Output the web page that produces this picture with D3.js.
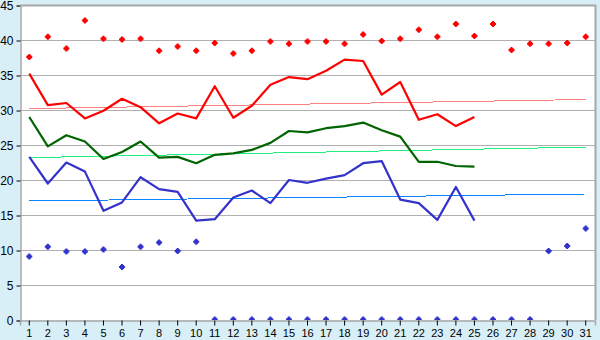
<!DOCTYPE html>
<html>
<head>
<meta charset="utf-8">
<script src="https://cdn.jsdelivr.net/npm/d3@7"></script>
<style>
  html, body { margin: 0; padding: 0; background: #d9eff7; }
  svg { display: block; font-family: "Liberation Sans", Arial, sans-serif; }
</style>
</head>
<body>
<svg id="chart" width="600" height="340"></svg>
<script>
// day numbers along the bottom
var days = d3.range(1, 32);
var yTicks = [0, 5, 10, 15, 20, 25, 30, 35, 40, 45];

// daily maximum, mean and minimum (days 1..25)
var maxTemp = [35.2, 30.7, 31.0, 28.8, 29.9, 31.6, 30.4, 28.1, 29.5, 28.8,
  33.4, 28.9, 30.6, 33.6, 34.7, 34.4, 35.6, 37.2, 37.0, 32.2,
  34.0, 28.6, 29.4, 27.7, 29.0];
var meanTemp = [29.0, 24.8, 26.4, 25.5, 23.0, 24.0, 25.5, 23.2, 23.3, 22.4,
  23.6, 23.8, 24.3, 25.3, 27.0, 26.8, 27.4, 27.7, 28.2, 27.1,
  26.2, 22.6, 22.6, 22.0, 21.9];
var minTemp = [23.3, 19.5, 22.5, 21.2, 15.6, 16.8, 20.4, 18.7, 18.3, 14.2,
  14.4, 17.5, 18.5, 16.7, 20.0, 19.6, 20.2, 20.7, 22.4, 22.7,
  17.2, 16.7, 14.3, 19.0, 14.2];

// record highs and lows (days 1..31)
var recordHigh = [37.5, 40.4, 38.7, 42.7, 40.1, 40.0, 40.1, 38.4, 39.0, 38.4,
  39.5, 38.0, 38.4, 39.7, 39.4, 39.7, 39.7, 39.4, 40.7, 39.8,
  40.1, 41.4, 40.4, 42.2, 40.5, 42.2, 38.5, 39.4, 39.4, 39.5, 40.4];
var recordLow = [9.0, 10.4, 9.7, 9.7, 10.0, 7.5, 10.4, 11.0, 9.8, 11.1,
  0, 0, 0, 0, 0, 0, 0, 0, 0, 0,
  0, 0, 0, 0, 0, 0, 0, 0, 9.8, 10.5, 13.0];

// long-term normals, value at day 1 and day 31
var normalMax = [30.2, 31.5];
var normalMean = [23.2, 24.7];
var normalMin = [17.0, 18.0];

var svg = d3.select('#chart');
var plotLeft = 20, plotRight = 595, plotTop = 5, plotBottom = 320;

var x = d3.scaleBand().domain(days).range([plotLeft, plotRight]).padding(0);
var y = d3.scaleLinear().domain([0, 45]).range([plotBottom, plotTop]);
var cx = function (d) { return x(d) + x.bandwidth() / 2; };

// plot background
svg.append('rect')
  .attr('x', plotLeft).attr('y', plotTop)
  .attr('width', plotRight - plotLeft).attr('height', plotBottom - plotTop)
  .attr('fill', '#fff');

svg.append('clipPath').attr('id', 'plot')
  .append('rect')
  .attr('x', plotLeft).attr('y', plotTop)
  .attr('width', plotRight - plotLeft).attr('height', plotBottom - plotTop);

// horizontal grid
svg.append('g').selectAll('line')
  .data(yTicks.slice(1, -1))
  .join('line')
  .attr('x1', plotLeft).attr('x2', plotRight)
  .attr('y1', function (d) { return Math.round(y(d)) + 0.5; })
  .attr('y2', function (d) { return Math.round(y(d)) + 0.5; })
  .attr('stroke', '#b0b0b0');

// y axis
var yAxis = svg.append('g')
  .attr('transform', 'translate(' + (plotLeft + 0.5) + ',0.5)')
  .call(d3.axisLeft(y).tickValues(yTicks).tickSize(4).tickPadding(3));
yAxis.select('.domain').attr('stroke', '#a8a8a8').attr('stroke-width', 1.5);
yAxis.selectAll('.tick line').attr('stroke', '#000');
yAxis.selectAll('.tick text').attr('font-size', 12).attr('fill', '#000')
  .attr('font-family', '"Liberation Sans", Arial, sans-serif');

// x axis
var xAxis = svg.append('g')
  .attr('transform', 'translate(0,' + (plotBottom + 0.5) + ')')
  .call(d3.axisBottom(x).tickSize(5).tickPadding(4));
xAxis.select('.domain').attr('stroke', '#a8a8a8').attr('stroke-width', 1.5);
xAxis.selectAll('.tick line').attr('stroke', '#000');
xAxis.selectAll('.tick text').attr('font-size', 11).attr('fill', '#000')
  .attr('font-family', '"Liberation Sans", Arial, sans-serif');

// frame top and right
svg.append('path')
  .attr('d', 'M' + plotLeft + ',' + (plotTop + 0.5) + 'H' + (plotRight + 0.5) + 'V' + plotBottom)
  .attr('fill', 'none')
  .attr('stroke', '#a8a8a8')
  .attr('stroke-width', 2);

var plot = svg.append('g').attr('clip-path', 'url(#plot)');

// normal lines
function normal(vals, color) {
  plot.append('line')
    .attr('x1', cx(1)).attr('x2', cx(31))
    .attr('y1', y(vals[0])).attr('y2', y(vals[1]))
    .attr('stroke', color)
    .attr('stroke-width', 1)
    .attr('shape-rendering', 'crispEdges');
}
normal(normalMax, '#ff8080');
normal(normalMean, '#20f080');
normal(normalMin, '#0a84ff');

// daily lines
function series(vals, color) {
  var line = d3.line()
    .x(function (d, i) { return cx(days[i]); })
    .y(function (d) { return y(d); });
  plot.append('path')
    .datum(vals)
    .attr('d', line)
    .attr('fill', 'none')
    .attr('stroke', color)
    .attr('stroke-width', 2.2)
    .attr('stroke-linejoin', 'round');
}
series(maxTemp, '#ff0000');
series(meanTemp, '#006400');
series(minTemp, '#3333cc');

// record markers
var marker = 'M-1,-3.5h2v1h1v1h1v2h-1v1h-1v1h-2v-1h-1v-1h-1v-2h1v-1h1z';
function records(vals, color) {
  plot.append('g').selectAll('path')
    .data(vals)
    .join('path')
    .attr('transform', function (d, i) {
      return 'translate(' + cx(days[i]) + ',' + y(d) + ')';
    })
    .attr('d', marker)
    .attr('fill', color);
}
records(recordHigh, '#ff0000');
records(recordLow, '#3333cc');
</script>
</body>
</html>
